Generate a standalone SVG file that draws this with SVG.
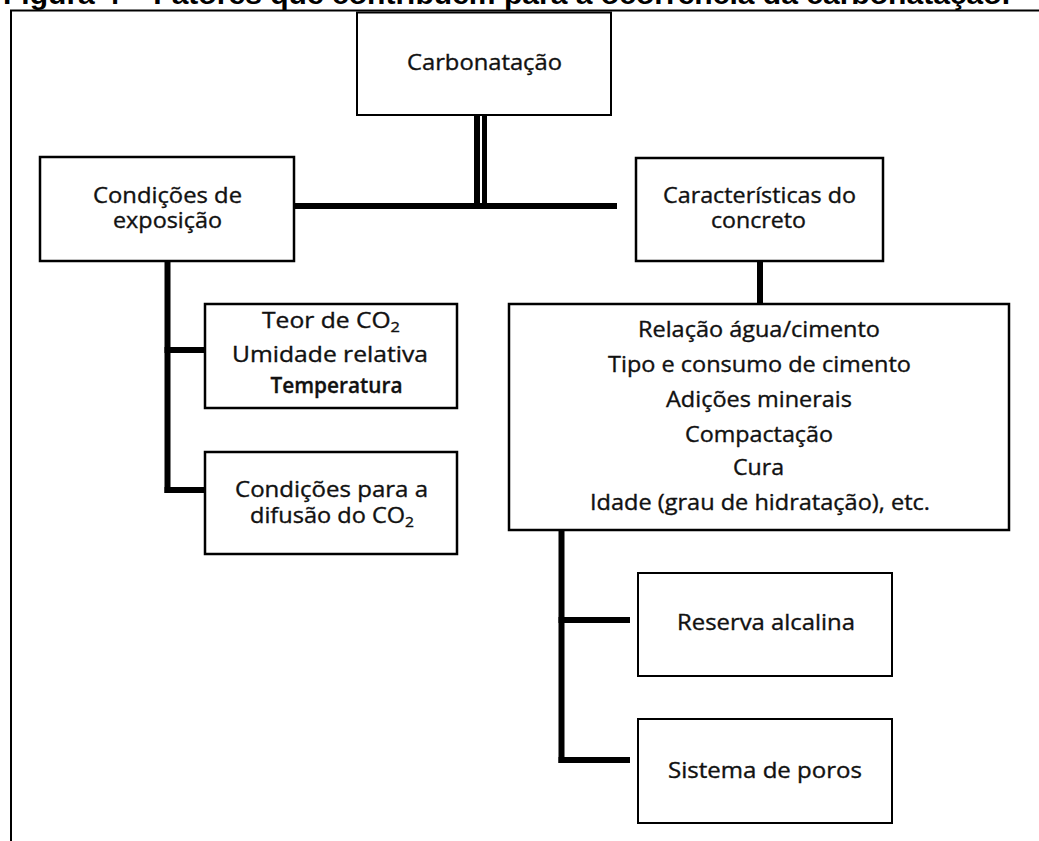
<svg xmlns="http://www.w3.org/2000/svg" width="1039" height="841" viewBox="0 0 1039 841">
<style>
.box{fill:#fff;stroke:#000;stroke-width:2.5}
.thin{stroke-width:2}
.t{font-family:"Open Sans","Noto Sans","Liberation Sans",sans-serif;font-size:21px;fill:#111;stroke:#111;stroke-width:0.35;text-anchor:middle}
.b{font-weight:600;font-size:22px}
.con{stroke:#000;stroke-width:6;fill:none}
.frame{stroke:#000;stroke-width:2;fill:none}
.title{font-family:"Liberation Sans",Arial,sans-serif;font-weight:bold;font-size:28px;fill:#000}
</style>
<rect width="1039" height="841" fill="#fff"/>
<text class="title" x="3" y="4" textLength="1007" lengthAdjust="spacingAndGlyphs">Figura 4 – Fatores que contribuem para a ocorrência da carbonatação.</text>
<g id="frame">
<line class="frame" x1="10" y1="10.5" x2="1039" y2="10.5"/>
<line class="frame" x1="11" y1="10" x2="11" y2="841"/>
</g>
<g id="connectors">
<line class="con" x1="477" y1="114" x2="477" y2="209"/>
<line class="con" x1="484.5" y1="114" x2="484.5" y2="209" style="stroke-width:5"/>
<line class="con" x1="294" y1="206" x2="617" y2="206"/>
<line class="con" x1="167.5" y1="261" x2="167.5" y2="493"/>
<line class="con" x1="164.5" y1="350" x2="205" y2="350"/>
<line class="con" x1="164.5" y1="490" x2="205" y2="490"/>
<line class="con" x1="760" y1="261" x2="760" y2="304"/>
<line class="con" x1="561.5" y1="530" x2="561.5" y2="763"/>
<line class="con" x1="558.5" y1="620" x2="630" y2="620"/>
<line class="con" x1="558.5" y1="760" x2="630" y2="760"/>
</g>
<g id="carbonatacao">
<rect class="box thin" x="357" y="12.5" width="254" height="102.5"/>
<text class="t" x="484.5" y="70" textLength="155" lengthAdjust="spacingAndGlyphs">Carbonatação</text>
</g>
<g id="condicoes-exposicao">
<rect class="box" x="40" y="157" width="254" height="104"/>
<text class="t" x="167.5" y="203" textLength="149" lengthAdjust="spacingAndGlyphs">Condições de</text>
<text class="t" x="167.5" y="228" textLength="109" lengthAdjust="spacingAndGlyphs">exposição</text>
</g>
<g id="fatores-ambientais">
<rect class="box" x="205" y="304" width="252" height="104"/>
<text class="t" x="331" y="328" textLength="138" lengthAdjust="spacingAndGlyphs">Teor de CO<tspan font-size="14" dy="4">2</tspan></text>
<text class="t" x="330" y="362" textLength="196" lengthAdjust="spacingAndGlyphs">Umidade relativa</text>
<text class="t b" x="336.5" y="393" textLength="132" lengthAdjust="spacingAndGlyphs">Temperatura</text>
</g>
<g id="condicoes-difusao">
<rect class="box" x="205" y="452" width="252" height="102"/>
<text class="t" x="331.5" y="497" textLength="193" lengthAdjust="spacingAndGlyphs">Condições para a</text>
<text class="t" x="332" y="523" textLength="164" lengthAdjust="spacingAndGlyphs">difusão do CO<tspan font-size="14" dy="4">2</tspan></text>
</g>
<g id="caracteristicas-concreto">
<rect class="box" x="636" y="158" width="247" height="103"/>
<text class="t" x="759.5" y="203" textLength="193" lengthAdjust="spacingAndGlyphs">Características do</text>
<text class="t" x="758.5" y="228" textLength="95" lengthAdjust="spacingAndGlyphs">concreto</text>
</g>
<g id="fatores-concreto">
<rect class="box" x="509" y="304" width="500" height="226"/>
<text class="t" x="759" y="337" textLength="242" lengthAdjust="spacingAndGlyphs">Relação água/cimento</text>
<text class="t" x="759.5" y="372" textLength="303" lengthAdjust="spacingAndGlyphs">Tipo e consumo de cimento</text>
<text class="t" x="759" y="407" textLength="186" lengthAdjust="spacingAndGlyphs">Adições minerais</text>
<text class="t" x="759" y="442" textLength="148" lengthAdjust="spacingAndGlyphs">Compactação</text>
<text class="t" x="758.5" y="475" textLength="51" lengthAdjust="spacingAndGlyphs">Cura</text>
<text class="t" x="760" y="510" textLength="340" lengthAdjust="spacingAndGlyphs">Idade (grau de hidratação), etc.</text>
</g>
<g id="reserva-alcalina">
<rect class="box thin" x="638" y="573" width="254" height="103"/>
<text class="t" x="766" y="630" textLength="178" lengthAdjust="spacingAndGlyphs">Reserva alcalina</text>
</g>
<g id="sistema-poros">
<rect class="box thin" x="638" y="719" width="254" height="104"/>
<text class="t" x="765" y="778" textLength="194" lengthAdjust="spacingAndGlyphs">Sistema de poros</text>
</g>
</svg>
